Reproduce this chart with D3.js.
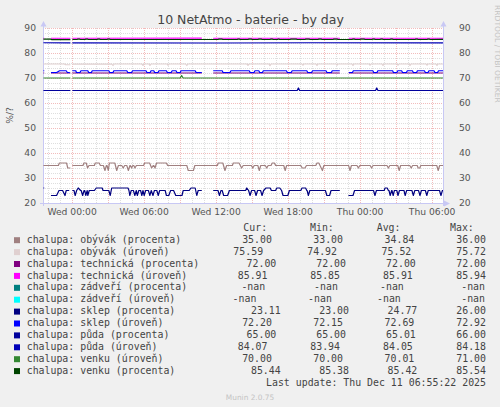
<!DOCTYPE html>
<html><head><meta charset="utf-8">
<script src="https://cdn.jsdelivr.net/npm/d3@7"></script>
<style>
html,body{margin:0;padding:0;background:#f0f0f0;}
svg{display:block;}
</style></head><body>
<svg id="chart" width="500" height="407"></svg>
<script>
// ---------- DATA (time = hours since Wed Dec 10 2025 00:00) ----------
const chartTitle = "10 NetAtmo - baterie - by day";
const yLabel = "%/?";
const lastUpdate = "Last update: Thu Dec 11 06:55:22 2025";
const yTicks = [20, 30, 40, 50, 60, 70, 80, 90];
const legendHeaders = ["Cur:", "Min:", "Avg:", "Max:"];

const labels = [
  "chalupa: obývák (procenta)", "chalupa: obývák (úroveň)",
  "chalupa: technická (procenta)", "chalupa: technická (úroveň)",
  "chalupa: zádveří (procenta)", "chalupa: zádveří (úroveň)",
  "chalupa: sklep (procenta)", "chalupa: sklep (úroveň)",
  "chalupa: půda (procenta)", "chalupa: půda (úroveň)",
  "chalupa: venku (úroveň)", "chalupa: venku (procenta)"
];
const colors = ["#a08080", "#e0d0d0", "#800080", "#ff00ff", "#008080", "#00ffff",
                "#000080", "#0000ff", "#00009c", "#0000b8", "#338833", "#004400"];
const curVals = [35.00, 75.59, 72.00, 85.91, NaN, NaN, 23.11, 72.20, 65.00, 84.07, 70.00, 85.44];
const minVals = [33.00, 74.92, 72.00, 85.85, NaN, NaN, 23.00, 72.15, 65.00, 83.94, 70.00, 85.38];
const avgVals = [34.84, 75.52, 72.00, 85.91, NaN, NaN, 24.77, 72.69, 65.01, 84.05, 70.01, 85.42];
const maxVals = [36.00, 75.72, 72.00, 85.94, NaN, NaN, 26.00, 72.92, 66.00, 84.18, 71.00, 85.54];

const obyvakProc = [[-2.35,35],[-1.1,35],[-1.02,36],[-0.42,36],[-0.32,34],[-0.1,34],[-0.05,null],
 [0.06,35],[0.95,35],[1.02,36],[1.22,36],[1.33,34],[1.45,35],[1.9,35],[1.97,36],[2.3,36],[2.4,35],[2.65,35],[2.78,33],[2.9,35],[2.95,35],[3.06,33],[3.15,36],[3.6,36],[3.76,33],[3.9,35],[4.18,35],[4.3,34],[4.42,35],[4.6,35],[4.73,33],[4.86,35],[4.9,35],[5.0,34],[5.1,35],[5.18,35],[5.28,34],[5.4,35],[6.0,35],[6.08,36],[6.5,36],[6.67,34],[6.8,35],[6.85,35],[6.95,34],[7.08,36],[7.9,36],[8.0,35],[9.6,35],[9.72,33],[10.15,33],[10.27,35],[12.15,35],[12.22,36],[12.6,36],[12.78,33],[12.92,35],[13.4,35],[13.47,36],[13.95,36],[14.17,34],[14.3,35],[14.98,35],[15.1,34],[15.22,35],[15.52,35],[15.64,33],[15.76,35],[16.14,35],[16.26,34],[16.38,35],[16.62,35],[16.72,36],[16.9,36],[17.0,35],[17.68,35],[17.8,33],[17.92,35],[19.1,35],[19.22,34],[19.45,34],[19.57,35],[20.35,35],[20.45,36],[20.6,36],[20.9,33],[21.02,35],[23.08,35],[23.2,33],[23.32,35],[23.78,35],[23.9,34],[24.02,35],[24.88,35],[25.0,34],[25.12,35],[26.28,35],[26.4,34],[26.52,35],[27.18,35],[27.3,33],[27.42,35],[28.18,35],[28.3,34],[28.42,35],[28.8,35],[28.88,34],[29.02,34],[29.1,35],[30.43,35],[30.55,33],[30.67,35],[30.95,35]];

const obyvakUrov = [[-2.35,75.6],[-0.6,75.6],[-0.5,75.3],[-0.1,75.3],[-0.05,null],[0.06,75.55],[3.35,75.6],[3.45,75.0],[3.55,75.6],[5.85,75.6],[5.95,75.1],[6.05,75.6],[6.45,75.6],[6.53,75.0],[6.62,75.6],[7.95,75.6],[8.03,75.1],[8.12,75.6],[9.5,75.6],[9.6,75.0],[9.7,75.6],[14.6,75.6],[14.7,75.1],[14.8,75.6],[16.45,75.6],[16.53,74.92],[16.62,75.6],[19.2,75.6],[19.28,75.1],[19.36,75.6],[20.37,75.6],[20.45,75.0],[20.53,75.6],[22.05,75.6],[22.12,75.1],[22.2,75.6],[23.37,75.6],[23.45,75.0],[23.53,75.6],[24.8,75.6],[24.87,75.1],[24.95,75.6],[25.87,75.6],[25.95,75.0],[26.03,75.6],[27.12,75.6],[27.2,75.1],[27.28,75.6],[28.12,75.6],[28.2,75.0],[28.28,75.6],[29.55,75.6],[29.62,75.1],[29.7,75.6],[30.37,75.6],[30.45,75.0],[30.53,75.6],[30.95,75.59]];

const technickaProc = [[-2.35,72],[-2.28,72],[-2.2,null],[-1.72,72],[-0.1,72],[-0.05,null],[0.06,72],[10.85,72],[10.9,null],[11.8,72],[22.35,72],[22.4,null],[23.1,72],[30.95,72]];

const technickaUrov = [[-2.35,85.91],[-2.28,85.91],[-2.2,null],[-1.72,85.9],[-0.1,85.91],[-0.05,null],[0.06,85.91],[10.85,85.92],[10.9,null],[11.8,85.91],[22.35,85.9],[22.4,null],[23.1,85.91],[30.95,85.91]];

const zadveriProc = [];
const zadveriUrov = [];

const sklepProc = [[-2.35,26],[-2.28,26],[-2.2,null],
 [-1.72,23],[-1.25,23],[-1.05,25],[-0.75,25],[-0.55,23],[-0.45,25],[-0.2,25],[-0.05,null],
 [0.06,25],[0.2,25],[0.3,23],[0.42,25],[0.55,26],[0.75,25],[0.8,25],[0.92,23],[1.04,25],[1.1,25],[1.18,23],[1.3,25],[1.35,23],[1.47,25],[1.9,25],[2.05,26],[2.55,26],[2.62,25],[3.1,25],[3.22,23],[3.34,26],[4.7,26],[4.78,25],[4.85,23],[4.97,25],[5.15,25],[5.27,23],[5.39,25],[5.48,23],[5.6,25],[5.75,25],[5.85,23],[5.95,25],[6.05,23],[6.17,25],[6.4,25],[6.52,23],[6.64,25],[6.78,23],[6.9,25],[7.1,25],[7.22,23],[7.34,25],[7.8,25],[7.9,23],[8.1,23],[8.25,25],[8.5,25],[8.68,23],[9.2,23],[9.3,25],[9.8,25],[9.95,26],[10.3,26],[10.43,23],[10.55,25],[10.85,25],[10.9,null],
 [11.8,25],[12.2,25],[12.32,23],[12.45,25],[12.55,25],[12.67,23],[13.0,23],[13.15,25],[14.5,25],[14.6,26],[14.75,25],[14.87,23],[15.0,25],[15.25,25],[15.37,23],[15.5,25],[15.75,25],[15.87,23],[16.0,25],[16.2,26],[16.55,26],[16.65,25],[17.0,25],[17.1,26],[17.35,26],[17.5,25],[17.62,23],[18.02,23],[18.15,25],[19.1,25],[19.2,26],[19.5,26],[19.6,25],[19.63,25],[19.73,23],[19.85,25],[21.15,25],[21.27,23],[21.5,23],[21.62,25],[22.35,25],[22.4,null],
 [23.07,23],[23.45,23],[23.58,25],[25.16,25],[25.28,23],[25.4,25],[26.05,25],[26.12,26],[26.3,26],[26.4,25],[26.45,25],[26.55,23],[26.67,25],[26.7,25],[26.8,23],[26.9,25],[27.1,25],[27.2,23],[27.32,25],[27.7,25],[27.8,23],[27.92,25],[28.36,25],[28.48,23],[28.6,25],[28.91,25],[29.03,23],[29.15,25],[29.48,25],[29.6,23],[29.72,25],[30.66,25],[30.78,23],[30.9,25],[30.95,25]];

const sklepUrov = [[-2.35,72.9],[-2.28,72.9],[-2.2,null],
 [-1.72,72.2],[-1.25,72.2],[-1.0,72.9],[-0.45,72.9],[-0.35,72.2],[-0.15,72.2],[-0.05,null],
 [0.06,72.9],[0.35,72.9],[0.4,72.2],[0.7,72.2],[0.78,72.9],[1.35,72.9],[1.42,72.2],[1.65,72.2],[1.72,72.9],[3.1,72.9],[3.18,72.2],[3.45,72.2],[3.52,72.9],[4.6,72.9],[4.68,72.2],[5.0,72.2],[5.08,72.9],[6.2,72.9],[6.28,72.2],[6.55,72.2],[6.62,72.9],[6.85,72.9],[6.92,72.2],[7.2,72.2],[7.28,72.9],[7.9,72.9],[7.98,72.2],[8.3,72.2],[8.38,72.9],[8.7,72.9],[8.78,72.2],[9.05,72.2],[9.12,72.9],[10.3,72.9],[10.38,72.2],[10.85,72.2],[10.9,null],
 [11.8,72.9],[12.55,72.9],[12.62,72.2],[13.2,72.2],[13.28,72.9],[14.8,72.9],[14.88,72.2],[15.2,72.2],[15.28,72.9],[15.6,72.9],[15.68,72.2],[15.9,72.2],[15.98,72.9],[17.9,72.9],[17.98,72.2],[18.3,72.2],[18.38,72.9],[19.6,72.9],[19.68,72.2],[20.0,72.2],[20.08,72.9],[21.2,72.9],[21.28,72.2],[21.65,72.2],[21.72,72.9],[22.35,72.9],[22.4,null],
 [23.1,72.2],[23.4,72.2],[23.48,72.9],[25.1,72.9],[25.18,72.2],[25.45,72.2],[25.52,72.9],[26.75,72.9],[26.82,72.2],[27.1,72.2],[27.18,72.9],[27.5,72.9],[27.58,72.2],[27.9,72.2],[27.98,72.9],[28.4,72.9],[28.48,72.2],[28.75,72.2],[28.82,72.9],[29.4,72.9],[29.48,72.2],[29.7,72.2],[29.78,72.9],[30.2,72.9],[30.28,72.2],[30.5,72.2],[30.58,72.9],[30.95,72.9]];

const pudaProc = [[-2.35,65],[-0.1,65],[-0.05,null],[0.06,65],[18.8,65],[18.9,66],[19.0,65],[25.33,65],[25.43,66],[25.53,65],[30.95,65]];

const pudaUrov = [[-2.35,84.1],[-0.1,84.05],[-0.05,null],[0.06,84.05],[12,84.0],[20,84.1],[30.95,84.07]];

const venkuUrov = [[-2.35,70],[-0.1,70],[-0.05,null],[0.06,70],[9.05,70],[9.17,71],[9.29,70],[30.95,70]];

const venkuProc = [[-2.35,85.54],[-1.75,85.54],[-1.68,85.38],[-0.1,85.38],[-0.05,null],[0.06,85.4],[0.45,85.4],[0.5,85.54],[0.68,85.54],[0.73,85.4],[1.12,85.4],[1.17,85.54],[1.35,85.54],[1.4,85.4],[2.12,85.4],[2.17,85.54],[2.35,85.54],[2.4,85.4],[2.95,85.4],[3.0,85.54],[3.18,85.54],[3.23,85.4],[12.2,85.4],[12.25,85.54],[12.55,85.54],[12.6,85.4],[13.8,85.4],[13.85,85.54],[14.0,85.54],[14.05,85.4],[14.7,85.4],[14.75,85.54],[15.0,85.54],[15.05,85.4],[15.53,85.4],[15.58,85.54],[15.83,85.54],[15.88,85.4],[16.53,85.4],[16.58,85.54],[16.75,85.54],[16.8,85.4],[17.15,85.4],[17.2,85.54],[17.3,85.54],[17.35,85.4],[18.2,85.4],[18.25,85.54],[18.75,85.54],[18.8,85.4],[19.45,85.4],[19.5,85.54],[19.82,85.54],[19.87,85.4],[20.53,85.4],[20.58,85.54],[20.82,85.54],[20.87,85.4],[21.78,85.4],[21.83,85.54],[22.15,85.54],[22.2,85.4],[23.37,85.4],[23.42,85.54],[23.58,85.54],[23.63,85.4],[24.03,85.4],[24.08,85.54],[24.4,85.54],[24.45,85.4],[25.03,85.4],[25.08,85.54],[25.25,85.54],[25.3,85.4],[25.7,85.4],[25.75,85.54],[25.92,85.54],[25.97,85.4],[26.53,85.4],[26.58,85.54],[26.75,85.54],[26.8,85.4],[28.62,85.4],[28.67,85.54],[28.83,85.54],[28.88,85.4],[29.62,85.4],[29.67,85.54],[29.83,85.54],[29.88,85.4],[30.95,85.44]];

const seriesList = [obyvakProc, obyvakUrov, technickaProc, technickaUrov, zadveriProc, zadveriUrov,
                    sklepProc, sklepUrov, pudaProc, pudaUrov, venkuUrov, venkuProc];

// ---------- DRAWING ----------
const wed0 = new Date(2025, 11, 10, 0, 0, 0);
const tStart = new Date(2025, 11, 9, 21, 37, 0);
const tEnd = new Date(2025, 11, 11, 6, 57, 0);
const toDate = h => new Date(+wed0 + h * 3600000);

const L = 43, R = 443, T = 28, B = 203;
const x = d3.scaleTime().domain([tStart, tEnd]).range([L, R]);
const y = d3.scaleLinear().domain([20, 90]).range([B, T]);

const svg = d3.select("#chart");
svg.append("rect").attr("width", 500).attr("height", 407).attr("fill", "#f0f0f0");
svg.append("rect").attr("x", L).attr("y", T).attr("width", R - L).attr("height", B - T).attr("fill", "#ffffff");

const grid = svg.append("g").attr("fill", "none").attr("stroke-width", 1).attr("stroke-dasharray", "1,1");
const hours = d3.timeHour.range(d3.timeHour.ceil(tStart), tEnd);
const px = v => Math.round(v) + 0.5;
const minorCol = "#dedede", majorCol = "#f2bcbc";
grid.selectAll(".vmin").data(hours.filter(d => d.getHours() % 3 !== 0)).join("line")
  .attr("x1", d => px(x(d))).attr("x2", d => px(x(d))).attr("y1", T).attr("y2", B)
  .attr("stroke", minorCol);
grid.selectAll(".hmin").data(d3.range(22, 90, 2).filter(v => v % 10 !== 0)).join("line")
  .attr("x1", L).attr("x2", R).attr("y1", d => px(y(d))).attr("y2", d => px(y(d)))
  .attr("stroke", minorCol);
grid.selectAll(".vmaj").data(hours.filter(d => d.getHours() % 3 === 0)).join("line")
  .attr("x1", d => px(x(d))).attr("x2", d => px(x(d))).attr("y1", T).attr("y2", B)
  .attr("stroke", majorCol);
grid.selectAll(".hmaj").data(yTicks.filter(v => v > 20)).join("line")
  .attr("x1", L).attr("x2", R).attr("y1", d => px(y(d))).attr("y2", d => px(y(d)))
  .attr("stroke", majorCol);

// axis lines with arrows
const axisCol = "#c8c8f4";
const ax = svg.append("g");
ax.append("line").attr("x1", L + 0.5).attr("x2", L + 0.5).attr("y1", B + 3).attr("y2", T - 4).attr("stroke", axisCol);
ax.append("line").attr("x1", R + 0.5).attr("x2", R + 0.5).attr("y1", B + 3).attr("y2", T - 4).attr("stroke", axisCol);
ax.append("line").attr("x1", L - 3).attr("x2", R + 4).attr("y1", B + 0.5).attr("y2", B + 0.5).attr("stroke", axisCol);
ax.append("path").attr("d", `M${L - 2.5},${T - 1.5}L${L + 0.5},${T - 7}L${L + 3.5},${T - 1.5}Z`).attr("fill", axisCol);
ax.append("path").attr("d", `M${R - 2.5},${T - 1.5}L${R + 0.5},${T - 7}L${R + 3.5},${T - 1.5}Z`).attr("fill", axisCol);
ax.append("path").attr("d", `M${R + 1},${B - 2.5}L${R + 7},${B + 0.5}L${R + 1},${B + 3.5}Z`).attr("fill", axisCol);

// series lines
const line = d3.line().defined(d => d[1] != null).x(d => x(toDate(d[0]))).y(d => y(d[1]));
const lines = svg.append("g").attr("fill", "none").attr("stroke-width", 1.2).attr("stroke-linejoin", "round");
seriesList.forEach((s, i) => {
  if (!s.length) return;
  lines.append("path").datum(s).attr("d", line).attr("stroke", colors[i]);
});

// axes labels
const axFont = g => g.attr("font-family", "'DejaVu Sans', sans-serif").attr("font-size", "9.2px")
  .call(gg => gg.select(".domain").remove())
  .call(gg => gg.selectAll("text").attr("fill", "#555"));
svg.append("g").attr("transform", `translate(0,${B})`)
  .call(d3.axisBottom(x).ticks(d3.timeHour.every(6)).tickFormat(d3.timeFormat("%a %H:%M")).tickSize(0).tickPadding(5.5))
  .call(axFont);
svg.append("g").attr("transform", `translate(${L},0)`)
  .call(d3.axisLeft(y).tickValues(yTicks).tickSize(0).tickPadding(7))
  .call(axFont);
svg.append("g").attr("transform", `translate(${R},0)`)
  .call(d3.axisRight(y).tickValues(yTicks).tickSize(0).tickPadding(16))
  .call(axFont);

// titles
svg.append("text").attr("x", 250.5).attr("y", 23.5).attr("text-anchor", "middle")
  .attr("font-family", "'DejaVu Sans', sans-serif").attr("font-size", "12.5px").attr("fill", "#444").text(chartTitle);
svg.append("text").attr("transform", "translate(13,115.5) rotate(-90)").attr("text-anchor", "middle")
  .attr("font-family", "'DejaVu Sans', sans-serif").attr("font-size", "9.2px").attr("fill", "#555").text(yLabel);
svg.append("text").attr("transform", "translate(494.5,5) rotate(90)").attr("text-anchor", "start")
  .attr("font-family", "'DejaVu Sans', sans-serif").attr("font-size", "7.6px").attr("fill", "#c4c4c4").text("RRDTOOL / TOBI OETIKER");
svg.append("text").attr("x", 250).attr("y", 399.5).attr("text-anchor", "middle")
  .attr("font-family", "'DejaVu Sans', sans-serif").attr("font-size", "7.4px").attr("fill", "#c4c4c4").text("Munin 2.0.75");

// legend
const mono = "'DejaVu Sans Mono', monospace";
const lg = svg.append("g").attr("font-family", mono).attr("font-size", "9.9px").attr("fill", "#444");
const base0 = 242.8, step = 11.9;
const hdrX = [243.3, 310, 376.7, 450];
legendHeaders.forEach((h, j) => lg.append("text").attr("x", hdrX[j]).attr("y", base0 - step).text(h));
const fmt = v => isNaN(v) ? "-nan" : v.toFixed(2);
const colRight = [280.7, 349, 417.3, 486];
const colShift = [4.4, 3, 1.5, 0];
const nanAdj = [2.3, 2.1, 9, 1];
labels.forEach((lab, i) => {
  const by = base0 + step * i;
  const n = [...lab].filter(c => c.charCodeAt(0) > 127).length;
  lg.append("rect").attr("x", 14).attr("y", by - 5.6).attr("width", 6).attr("height", 6).attr("fill", colors[i]);
  lg.append("text").attr("x", 26.7).attr("y", by).text(lab);
  [curVals[i], minVals[i], avgVals[i], maxVals[i]].forEach((v, j) => {
    const xr = colRight[j] - colShift[j] * n - (isNaN(v) ? nanAdj[j] : 0);
    lg.append("text").attr("x", xr).attr("y", by).attr("text-anchor", "end").text(fmt(v));
  });
});
lg.append("text").attr("x", 486).attr("y", base0 + step * 12).attr("text-anchor", "end").text(lastUpdate);
</script>
</body></html>
